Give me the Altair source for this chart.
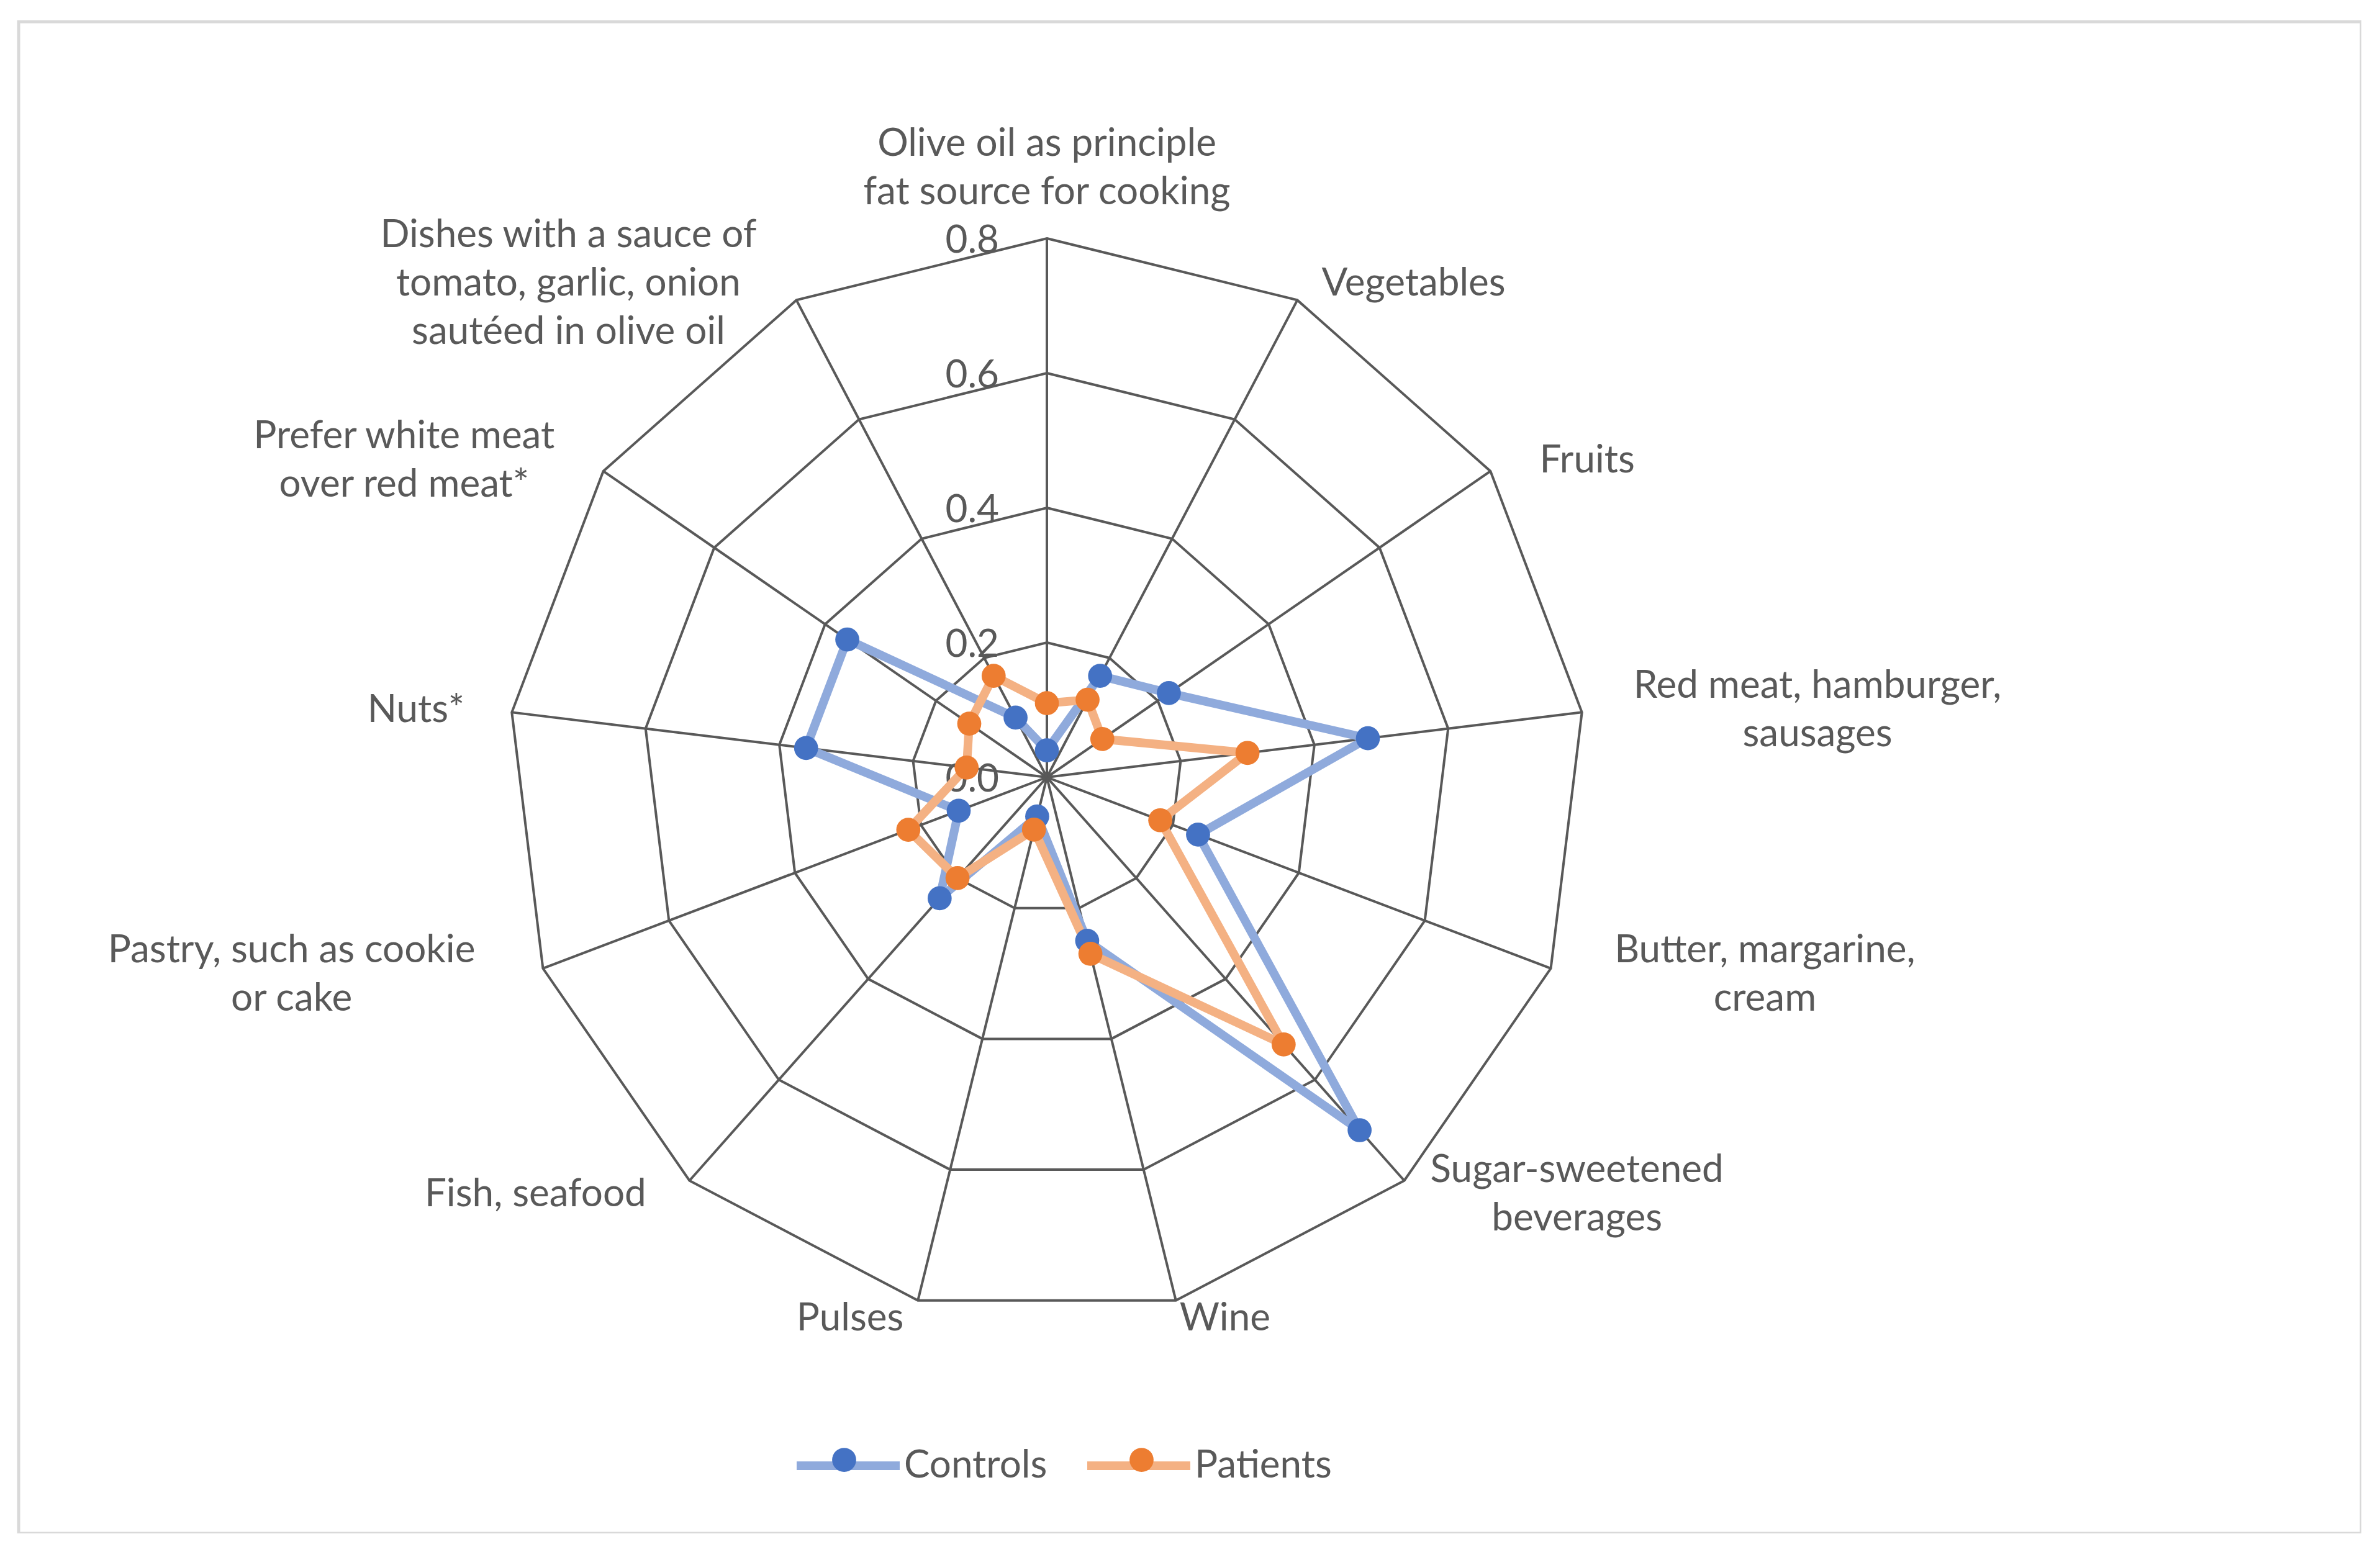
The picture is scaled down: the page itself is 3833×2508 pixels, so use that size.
import altair as alt
import pandas as pd

# ---------------- data ----------------
categories = [
    "Olive oil as principle\nfat source for cooking",
    "Vegetables",
    "Fruits",
    "Red meat, hamburger,\nsausages",
    "Butter, margarine,\ncream",
    "Sugar-sweetened\nbeverages",
    "Wine",
    "Pulses",
    "Fish, seafood",
    "Pastry, such as cookie\nor cake",
    "Nuts*",
    "Prefer white meat\nover red meat*",
    "Dishes with a sauce of\ntomato, garlic, onion\nsautéed in olive oil",
]
controls = [0.04, 0.17, 0.22, 0.48, 0.24, 0.70, 0.25, 0.06, 0.24, 0.14, 0.36, 0.36, 0.10]
patients = [0.11, 0.13, 0.10, 0.30, 0.18, 0.53, 0.27, 0.08, 0.20, 0.22, 0.12, 0.14, 0.17]
series_names = ["Controls", "Patients"]
ring_values = [0.2, 0.4, 0.6, 0.8]
tick_values = [0.0, 0.2, 0.4, 0.6, 0.8]

# ---------------- style ----------------
N = len(categories)
RMAX = max(ring_values)
FONT = "Lato"
FS = 62
TXT = "#595959"
GRID = "#595959"
LINE_COLORS = ["#8FAADC", "#F4B183"]
MARK_COLORS = ["#4472C4", "#ED7D31"]

W, H = 3773, 2435          # plot area (also the light-grey frame)
U = 1085.0                 # pixels per data unit
CX, CY = 1656.0, 1217.0    # centre of the radar inside the plot area
XDOM = [-CX / U, (W - CX) / U]
YDOM = [-(H - CY) / U, CY / U]
CW = 30.0                  # approx. character width for label blocks
LH = 78.0                  # line height of labels

xs = alt.Scale(domain=XDOM, nice=False, zero=False)
ys = alt.Scale(domain=YDOM, nice=False, zero=False)
X = lambda f: alt.X(f, scale=xs, axis=None)
Y = lambda f: alt.Y(f, scale=ys, axis=None)

TH = f"(2*PI*datum.idx/{N})"

# ---------------- tables ----------------
series_df = pd.DataFrame(
    [{"series": s, "idx": i, "value": v}
     for s, vals in zip(series_names, [controls, patients])
     for i, v in enumerate(vals)]
)
ring_df = pd.DataFrame([{"ring": r, "idx": i} for r in ring_values for i in range(N)])
spoke_df = pd.DataFrame({"idx": list(range(N))})
tick_df = pd.DataFrame({"value": tick_values})
label_df = pd.DataFrame(
    [{"idx": i, "line": ln, "j": j}
     for i, c in enumerate(categories)
     for j, ln in enumerate(c.split("\n"))]
)

# ---------------- layers ----------------
grid = (
    alt.Chart(ring_df)
    .transform_calculate(gx=f"datum.ring*sin({TH})", gy=f"datum.ring*cos({TH})")
    .mark_line(interpolate="linear-closed", stroke=GRID, strokeWidth=4)
    .encode(x=X("gx:Q"), y=Y("gy:Q"), detail="ring:N", order="idx:Q")
)

spokes = (
    alt.Chart(spoke_df)
    .transform_calculate(
        ox="0", oy="0",
        sx=f"{RMAX}*sin({TH})", sy=f"{RMAX}*cos({TH})",
    )
    .mark_rule(stroke=GRID, strokeWidth=4)
    .encode(x=X("ox:Q"), y=Y("oy:Q"), x2="sx:Q", y2="sy:Q")
)

ticks = (
    alt.Chart(tick_df)
    .transform_calculate(tx="0")
    .mark_text(align="right", baseline="middle", dx=-77, dy=4,
               font=FONT, fontSize=FS, color=TXT)
    .encode(x=X("tx:Q"), y=Y("value:Q"), text=alt.Text("value:Q", format=".1f"))
)

labels = (
    alt.Chart(label_df)
    .transform_calculate(len="length(datum.line)")
    .transform_joinaggregate(maxlen="max(len)", n="count()", groupby=["idx"])
    .transform_calculate(
        s=f"sin({TH})", c=f"cos({TH})",
    )
    .transform_calculate(
        sg="datum.s > 0.05 ? 1 : (datum.s < -0.05 ? -1 : 0)",
        top="(abs(datum.s) < 0.05 && datum.c > 0) ? 1 : 0",
    )
    .transform_calculate(
        lx=f"({RMAX} + 80/{U})*datum.s + datum.sg*datum.maxlen*{CW}/2/{U}",
        cy=f"({RMAX} + 30/{U})*datum.c + datum.top*(datum.n*{LH/2} + 5)/{U}",
    )
    .transform_calculate(
        ly=f"datum.cy - (datum.j - (datum.n - 1)/2)*{LH}/{U}",
    )
    .mark_text(align="center", baseline="middle", font=FONT, fontSize=FS, color=TXT)
    .encode(x=X("lx:Q"), y=Y("ly:Q"), text="line:N")
)

pos = dict(px=f"datum.value*sin({TH})", py=f"datum.value*cos({TH})")

LEG_COMMON = dict(title=None, orient="none", direction="horizontal",
                  padding=0, symbolOpacity=1, legendY=2236)

lines = (
    alt.Chart(series_df)
    .transform_calculate(**pos)
    .mark_line(interpolate="linear-closed", strokeWidth=14, strokeJoin="round", strokeCap="round")
    .encode(
        x=X("px:Q"), y=Y("py:Q"),
        color=alt.Color(
            "series:N",
            scale=alt.Scale(domain=series_names, range=LINE_COLORS),
            legend=alt.Legend(
                symbolType="stroke", symbolStrokeWidth=14, symbolSize=27556,
                legendX=1246, labelFont=FONT, labelFontSize=FS, labelColor=TXT,
                labelOffset=0, labelLimit=0, columnPadding=36, **LEG_COMMON,
            ),
        ),
        order="idx:Q",
    )
)

points = (
    alt.Chart(series_df)
    .transform_calculate(**pos)
    .mark_point(filled=True, size=1500, opacity=1)
    .encode(
        x=X("px:Q"), y=Y("py:Q"),
        color=alt.Color(
            "series:N",
            scale=alt.Scale(domain=series_names, range=MARK_COLORS),
            legend=alt.Legend(
                symbolType="circle", symbolSize=1500, symbolStrokeWidth=0,
                labelExpr="''", labelFontSize=1, labelOffset=0,
                legendX=1310, legendY=2297, columnPadding=440,
                title=None, orient="none", direction="horizontal",
                padding=0, symbolOpacity=1,
            ),
        ),
    )
)

chart = (
    alt.layer(grid, spokes, ticks, labels, lines, points)
    .resolve_scale(color="independent")
    .resolve_legend(color="independent")
    .properties(
        width=W, height=H,
        autosize=alt.AutoSizeParams(type="none"),
        padding={"left": 22, "top": 27, "right": 0, "bottom": 0},
        background="white",
    )
    .configure_view(stroke="#d9d9d9", strokeWidth=5)
)

chart.save("out.html", embed_options={"renderer": "svg", "actions": False})
